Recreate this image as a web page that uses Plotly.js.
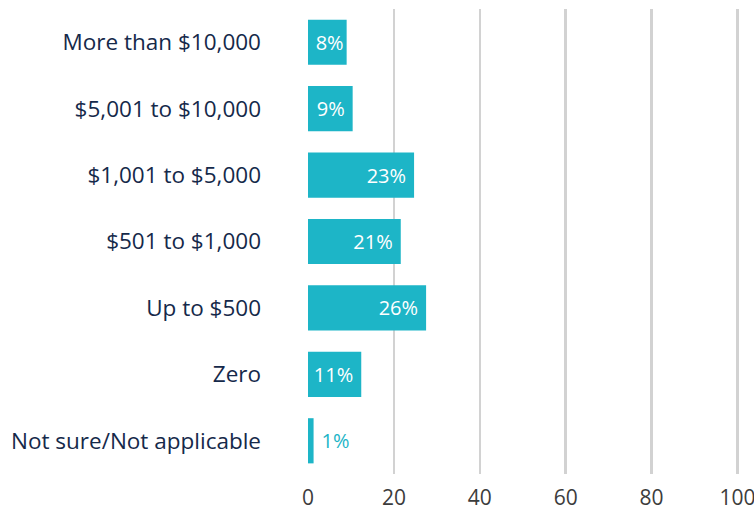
<!DOCTYPE html>
<html>
<head>
<meta charset="utf-8">
<script src="https://cdn.plot.ly/plotly-3.0.1.min.js"></script>
<style>
  html, body { margin: 0; padding: 0; background: #fff; }
  #chart { width: 754px; height: 512px; }
</style>
</head>
<body>
<div id="chart"></div>
<script>
// categories top to bottom
const categories = [
    'More than $10,000',
    '$5,001 to $10,000',
    '$1,001 to $5,000',
    '$501 to $1,000',
    'Up to $500',
    'Zero',
    'Not sure/Not applicable'
];
// bar lengths as drawn in the picture
const values = [9.0, 10.4, 24.7, 21.6, 27.5, 12.4, 1.3];
// labels printed on the bars
const labels = ['8%', '9%', '23%', '21%', '26%', '11%', '1%'];
const labelPositions = ['inside', 'inside', 'inside', 'inside', 'inside', 'inside', 'outside'];
const xTicks = [0, 20, 40, 60, 80, 100];

const barColor = '#1db5c7';

// a small space after each label keeps it off the bar end (not on the narrowest bar)
const templates = labelPositions.map((p, i) => {
    if (p === 'outside') return '\u2005%{text}';
    return values[i] < 10 ? '%{text}' : '%{text}\u2005';
});

const trace = {
    type: 'bar',
    orientation: 'h',
    y: categories,
    x: values,
    text: labels,
    texttemplate: templates,
    textposition: labelPositions,
    textangle: 0,
    insidetextanchor: 'end',
    constraintext: 'none',
    cliponaxis: false,
    textfont: { family: 'Open Sans, sans-serif', size: 20 },
    insidetextfont: { color: '#ffffff', family: 'Open Sans, sans-serif', size: 20 },
    outsidetextfont: { color: barColor, family: 'Open Sans, sans-serif', size: 20 },
    marker: { color: barColor },
    hoverinfo: 'none'
};

const layout = {
    width: 754,
    height: 512,
    margin: { t: 9, r: 14, b: 38, l: 308 },
    bargap: 0.32,
    showlegend: false,
    plot_bgcolor: '#ffffff',
    paper_bgcolor: '#ffffff',
    font: { family: 'Open Sans, sans-serif' },
    xaxis: {
        range: [0, 100.6],
        tickvals: xTicks,
        ticktext: xTicks.map(String),
        showgrid: true,
        gridcolor: '#d2d2d2',
        gridwidth: 2.5,
        zeroline: false,
        showline: false,
        ticks: '',
        ticklabelstandoff: 9,
        ticklabeloverflow: 'allow',
        tickfont: { size: 21, color: '#3c3c3c' },
        fixedrange: true
    },
    yaxis: {
        type: 'category',
        categoryorder: 'array',
        categoryarray: categories,
        autorange: 'reversed',
        showgrid: false,
        zeroline: false,
        showline: false,
        ticks: '',
        ticklabelstandoff: 46,
        tickfont: { size: 22.5, color: '#15294a' },
        fixedrange: true
    }
};

Plotly.newPlot('chart', [trace], layout, { displayModeBar: false, staticPlot: true });
</script>
</body>
</html>
